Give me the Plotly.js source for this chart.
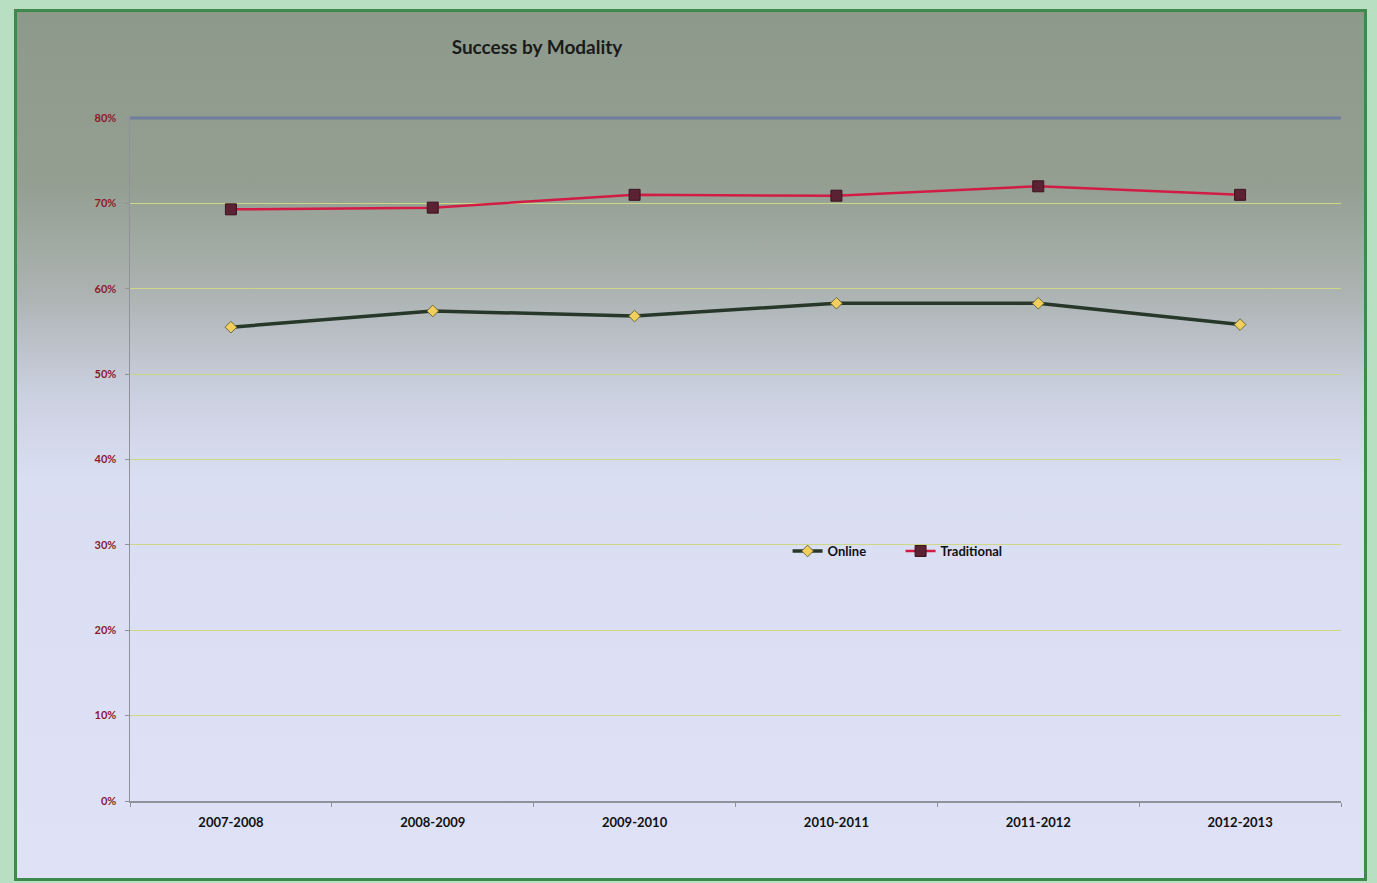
<!DOCTYPE html>
<html>
<head>
<meta charset="utf-8">
<script src="https://cdn.plot.ly/plotly-3.0.1.min.js"></script>
<style>
  html, body { margin: 0; padding: 0; background: #b9dfc2; width: 1377px; height: 883px; overflow: hidden; }
  #frame {
    position: absolute; left: 14px; top: 9px; width: 1347px; height: 866px;
    border: 3px solid #3d8a4c;
    background: linear-gradient(to bottom, #8d998b 0%, #949f92 20%, #abb2b0 32%, #cbd0e0 44%, #dadef2 54%, #dfe2f6 100%);
  }
  #chart { position: absolute; left: 0; top: 0; width: 1377px; height: 883px; }
</style>
</head>
<body>
<div id="frame"></div>
<div id="chart"></div>
<script>
const categories = ["2007-2008", "2008-2009", "2009-2010", "2010-2011", "2011-2012", "2012-2013"];
const online = [0.555, 0.574, 0.568, 0.583, 0.583, 0.558];
const traditional = [0.693, 0.695, 0.710, 0.709, 0.720, 0.710];
const yTickVals = [0, 0.1, 0.2, 0.3, 0.4, 0.5, 0.6, 0.7, 0.8];

const fontFam = 'Lato, "Open Sans", "DejaVu Sans", sans-serif';

const traces = [
  {
    x: categories, y: online, name: "Online", type: "scatter", mode: "lines+markers",
    line: { color: "#27382a", width: 3.5 },
    marker: { symbol: "diamond", size: 9, color: "#f2cf5c", line: { color: "#6b6a3c", width: 1 } }
  },
  {
    x: categories, y: traditional, name: "Traditional", type: "scatter", mode: "lines+markers",
    line: { color: "#d21c45", width: 2.5 },
    marker: { symbol: "square", size: 11, color: "#5a2232", line: { color: "#3a1520", width: 1 } }
  }
];

const layout = {
  width: 1377, height: 883,
  paper_bgcolor: "rgba(0,0,0,0)",
  plot_bgcolor: "rgba(0,0,0,0)",
  margin: { l: 130, r: 36, t: 118, b: 82 },
  title: {
    text: "<b>Success by Modality</b>",
    font: { family: fontFam, size: 19, color: "#1a1a1a" },
    x: 0.39, xanchor: "center", xref: "container",
    y: 0.946, yanchor: "middle", yref: "container"
  },
  xaxis: {
    type: "category",
    range: [-0.5, 5.5],
    showgrid: false,
    showline: true, linecolor: "#8e929a", linewidth: 1.5,
    ticks: "outside", tickson: "boundaries", ticklen: 4, tickcolor: "#8e929a",
    tickfont: { family: fontFam, size: 13, color: "#111111", weight: "bold" },
    ticklabelstandoff: 9,
    zeroline: false
  },
  yaxis: {
    range: [0, 0.8],
    tickvals: yTickVals,
    tickformat: ".0%",
    showgrid: true, gridcolor: "#cdd884", gridwidth: 1,
    showline: true, linecolor: "#8e929a", linewidth: 1.5,
    ticks: "outside", ticklen: 4, tickcolor: "#8e929a",
    tickfont: { family: fontFam, size: 11, color: "#8a1a2c", weight: "bold" },
    zeroline: false,
    ticklabelstandoff: 6
  },
  legend: {
    orientation: "h",
    x: 0.543, xanchor: "left",
    y: 0.366, yanchor: "middle",
    bgcolor: "rgba(0,0,0,0)",
    font: { family: fontFam, size: 13, color: "#111111", weight: "bold" },
    itemwidth: 30,
    entrywidth: 68, entrywidthmode: "pixels",
    tracegroupgap: 0
  },
  shapes: [
    { type: "line", xref: "paper", yref: "paper", x0: 0, x1: 1, y0: 1, y1: 1,
      line: { color: "#6f7d9e", width: 3 } }
  ],
  showlegend: true
};

Plotly.newPlot("chart", traces, layout, { displayModeBar: false, staticPlot: true });
</script>
</body>
</html>
